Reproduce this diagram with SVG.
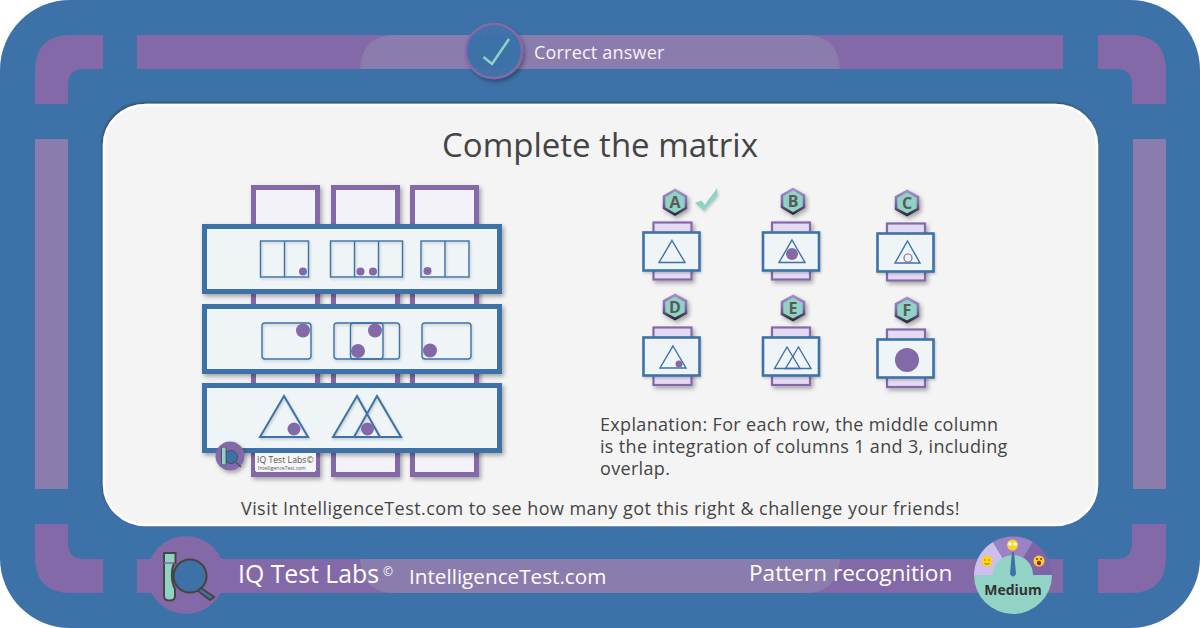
<svg xmlns="http://www.w3.org/2000/svg" width="1200" height="628" viewBox="0 0 1200 628">
<style>
text{font-family:"Open Sans","Noto Sans","Liberation Sans",sans-serif}
.bar{fill:#8469a8}.lite{fill:#8b7cae}
.body{fill:#444}
.col{fill:#f3f2f9;stroke:#8469a8;stroke-width:5}
.row{fill:#eff4f7;stroke:#3d72a8;stroke-width:5}
.ln{fill:none;stroke:#3d72a8;stroke-width:1.4}
.ln2{fill:none;stroke:#3d72a8;stroke-width:2}
.dot{fill:#8469a8}
.back{fill:#e5daf3;stroke:#8469a8;stroke-width:2.2}
.front{fill:#eff4f7;stroke:#3d72a8;stroke-width:2.6}
.hex{fill:#8fd3c5;stroke:url(#hs);stroke-width:2.6}
.hl{font-size:16px;font-weight:700;fill:#5a5a5a;text-anchor:middle}
.em{fill:#fbd321}
</style>
<defs>
<linearGradient id="hs" x1="0" y1="0" x2="0" y2="1"><stop offset="0" stop-color="#a58fca"/><stop offset=".55" stop-color="#7d64a6"/><stop offset="1" stop-color="#2e2a3a"/></linearGradient>
<filter id="s" x="-20%" y="-20%" width="150%" height="150%"><feDropShadow dx="2" dy="2.5" stdDeviation="2" flood-color="#000" flood-opacity=".33"/></filter>
<filter id="ss" x="-20%" y="-20%" width="150%" height="150%"><feDropShadow dx="1" dy="1.5" stdDeviation="1.200" flood-color="#000" flood-opacity=".2"/></filter>
<filter id="p" x="-5%" y="-5%" width="110%" height="110%"><feDropShadow dx="-1" dy="-1.500" stdDeviation="1" flood-color="#333" flood-opacity=".55"/></filter>
<pattern id="h" width="5" height="5" patternUnits="userSpaceOnUse" patternTransform="rotate(-45)"><line x1="0" y1="1" x2="5" y2="1" stroke="#8469a8" stroke-width="1" opacity=".45"/></pattern>
<clipPath id="ch"><rect x="466" y="24" width="56" height="12"/><rect x="466" y="68" width="56" height="10"/></clipPath>
</defs>
<g id="frame">
<rect x="0" y="0" width="1200" height="628" rx="70" ry="70" fill="#3d72a8"/>
<path class="bar" d="M35 104V71Q35 35 71 35H103V69H84Q68 69 68 85V104Z"/>
<path class="bar" d="M1166 104V71Q1166 35 1130 35H1098V69H1117Q1132 69 1132 85V104Z"/>
<path class="bar" d="M35 524V557Q35 593 71 593H103V559H84Q68 559 68 543V524Z"/>
<path class="bar" d="M1166 524V557Q1166 593 1130 593H1098V559H1117Q1132 559 1132 543V524Z"/>
<rect class="lite" x="35" y="139" width="33" height="350"/>
<rect class="lite" x="1133" y="139" width="33" height="350"/>
<rect class="bar" x="137" y="35" width="926" height="34"/>
<rect class="bar" x="137" y="559" width="926" height="34"/>
<path class="lite" d="M360 69Q362 35 395 35H805Q838 35 840 69Z"/>
<path class="lite" d="M360 559Q362 593 395 593H805Q838 593 840 559Z"/>
</g>
<g id="correct-badge">
<ellipse cx="494" cy="51" rx="28" ry="27" fill="#3d72a8" stroke="#8469a8" stroke-width="2.500" filter="url(#s)"/>
<ellipse cx="494" cy="51" rx="26.500" ry="25.500" fill="url(#h)" clip-path="url(#ch)"/>
<path d="M483.500 57L492 64L509 39" fill="none" stroke="#8fd3c5" stroke-width="2.400"/>
<text x="534" y="59" font-size="18" letter-spacing=".2" fill="#f4f4f4">Correct answer</text>
</g>
<g id="panel">
<rect x="104" y="105" width="993" height="420" rx="42" ry="40" fill="#f4f4f4" stroke="#fff" stroke-width="2.500" filter="url(#p)"/>
<text class="body" x="600" y="157" font-size="33" text-anchor="middle">Complete the matrix</text>
</g>
<g id="matrix">
<g id="columns" filter="url(#s)">
<rect class="col" x="253.500" y="187.500" width="64" height="287"/>
<rect class="col" x="333.500" y="187.500" width="64" height="287"/>
<rect class="col" x="412.500" y="187.500" width="64" height="287"/>
</g>
<g id="row1">
<rect class="row" x="204.500" y="226.500" width="295" height="65" filter="url(#s)"/>
<g class="ln" filter="url(#ss)"><rect x="260.500" y="241" width="48" height="36"/><path d="M284.500 241V277"/><rect x="330.500" y="241" width="72" height="36"/><path d="M354.500 241V277M378.500 241V277"/><rect x="421" y="241" width="48" height="36"/><path d="M445 241V277"/></g>
<circle class="dot" cx="303" cy="271.500" r="4"/><circle class="dot" cx="360.500" cy="271.500" r="4"/><circle class="dot" cx="373" cy="271.500" r="4"/><circle class="dot" cx="427.500" cy="271" r="4"/>
</g>
<g id="row2">
<rect class="row" x="204.500" y="306.500" width="295" height="65" filter="url(#s)"/>
<g class="ln" filter="url(#ss)"><rect x="262" y="323" width="49" height="36" rx="3"/><rect x="334" y="323" width="49" height="36" rx="3"/><rect x="350.500" y="323" width="49" height="36" rx="3"/><rect x="422" y="323" width="49" height="36" rx="3"/></g>
<circle class="dot" cx="303" cy="330.500" r="7"/><circle class="dot" cx="375" cy="330.500" r="7"/><circle class="dot" cx="358" cy="351" r="7"/><circle class="dot" cx="430" cy="350.500" r="7"/>
</g>
<g id="row3">
<rect class="row" x="204.500" y="385.500" width="295" height="65" filter="url(#s)"/>
<g class="ln2" filter="url(#ss)"><path d="M284 396L308 437H260Z"/><path d="M357 396L380 437H333Z"/><path d="M377 396L401 437H354Z"/></g>
<circle class="dot" cx="294" cy="429" r="6.500"/><circle class="dot" cx="367.500" cy="429" r="6.500"/>
</g>
<g id="watermark">
<rect x="255" y="453" width="61" height="18" fill="#f6f6f8"/>
<text x="257" y="463" font-size="8.700" fill="#555">IQ Test Labs©</text>
<text x="258" y="470" font-size="5" fill="#555">IntelligenceTest.com</text>
<circle cx="230" cy="456" r="14.500" fill="#8469a8" filter="url(#s)"/>
<circle cx="231" cy="457" r="6.500" fill="#3d72a8" stroke="#444" stroke-width=".8"/>
<rect x="221.500" y="447" width="4.500" height="18" rx="1.500" fill="#8fd3c5" stroke="#444" stroke-width=".8"/>
<path d="M235.500 462L241 467" stroke="#3d5a70" stroke-width="1.500"/>
</g>
</g>
<g id="option-a">
<path class="hex" filter="url(#s)" d="M675 190L686 196.500V208L675 214.500L664 208V196.500Z"/><text class="hl" x="675" y="208">A</text>
<path d="M695 203L701 200.500L705 205C708 199 713 195 717 188L717.500 195.500L704 211Z" fill="#8fd3c5" filter="url(#ss)"/>
<rect class="back" x="653.500" y="222.500" width="38" height="57" filter="url(#s)"/>
<rect class="front" x="643.500" y="232.500" width="56" height="38" filter="url(#ss)"/>
<path class="ln" d="M672 240.500L685 262.500H659Z"/>
</g>
<g id="option-b">
<path class="hex" filter="url(#s)" d="M793 189L804 195.500V207L793 213.500L782 207V195.500Z"/><text class="hl" x="793" y="207">B</text>
<rect class="back" x="772" y="222.500" width="38" height="57" filter="url(#s)"/>
<rect class="front" x="763" y="232.500" width="56" height="38" filter="url(#ss)"/>
<path class="ln" d="M792 240L805 262.500H779Z"/><circle class="dot" cx="792" cy="254" r="6"/>
</g>
<g id="option-c">
<path class="hex" filter="url(#s)" d="M907 191L918 197V209L907 215L896 209V197Z"/><text class="hl" x="907" y="209">C</text>
<rect class="back" x="887" y="223.500" width="38" height="57" filter="url(#s)"/>
<rect class="front" x="877.500" y="233.500" width="56" height="38" filter="url(#ss)"/>
<path class="ln" d="M907.500 241L920 263H895Z"/><circle cx="908" cy="258" r="4" fill="none" stroke="#8469a8" stroke-width="1.200"/>
</g>
<g id="option-d">
<path class="hex" filter="url(#s)" d="M675 295L686 301V313L675 319L664 313V301Z"/><text class="hl" x="675" y="313">D</text>
<rect class="back" x="653.500" y="327.500" width="38" height="57.500" filter="url(#s)"/>
<rect class="front" x="643.500" y="337.500" width="56" height="38" filter="url(#ss)"/>
<path class="ln" d="M673 346L686 368H660Z"/><circle class="dot" cx="679" cy="364" r="3.500"/>
</g>
<g id="option-e">
<path class="hex" filter="url(#s)" d="M793 296L804 302V314L793 320L782 314V302Z"/><text class="hl" x="793" y="314">E</text>
<rect class="back" x="772" y="327.500" width="38" height="57.500" filter="url(#s)"/>
<rect class="front" x="763" y="337.500" width="56" height="38" filter="url(#ss)"/>
<path class="ln" d="M787 347L800 368.500H774.500Z"/><path class="ln" d="M798.500 347L811 368.500H785.500Z"/>
</g>
<g id="option-f">
<path class="hex" filter="url(#s)" d="M907 298L918 304V316L907 322L896 316V304Z"/><text class="hl" x="907" y="316">F</text>
<rect class="back" x="887" y="329.500" width="38" height="57.500" filter="url(#s)"/>
<rect class="front" x="877.500" y="339.500" width="56" height="38" filter="url(#ss)"/>
<circle class="dot" cx="907" cy="360" r="12"/>
</g>
<g id="explanation" class="body" font-size="18" letter-spacing=".33">
<text x="600" y="431">Explanation: For each row, the middle column</text>
<text x="600" y="453">is the integration of columns 1 and 3, including</text>
<text x="600" y="475">overlap.</text>
</g>
<text id="cta" class="body" x="600.500" y="515" font-size="18" letter-spacing=".44" text-anchor="middle">Visit IntelligenceTest.com to see how many got this right &amp; challenge your friends!</text>
<g id="footer-logo">
<ellipse cx="186" cy="575" rx="39" ry="39" fill="#8469a8"/>
<circle cx="190" cy="576" r="16.500" fill="#3d72a8" stroke="#4a4440" stroke-width="2.200"/>
<path d="M164 553H175.500V563H174C171 570 171 582 175 589V596Q175 600.500 169.500 600.500Q164 600.500 164 596Z" fill="#8fd3c5" stroke="#4a4440" stroke-width="2"/>
<path d="M164 563H175" stroke="#8469a8" stroke-width="1.500"/>
<path d="M201 588L214 597L210 600L198 591Z" fill="#3d72a8" stroke="#4a4440" stroke-width="2"/>
<text x="238" y="583" font-size="24.800" fill="#fff">IQ Test Labs</text>
<text x="383" y="576" font-size="12" fill="#fff">©</text>
<text x="409" y="584" font-size="20.700" fill="#fff">IntelligenceTest.com</text>
</g>
<text id="category" x="749" y="581" font-size="22.600" fill="#fff">Pattern recognition</text>
<g id="gauge">
<path d="M1013 575L993 542A39 39 0 0 0 974 575Z" fill="#cfbdeb"/>
<path d="M1013 575L993 542A39 39 0 0 1 1033 542Z" fill="#9b82c4"/>
<path d="M1013 575L1033 542A39 39 0 0 1 1052 575Z" fill="#7f63a8"/>
<path d="M974 575H993A20 20 0 0 1 1033 575H1052A39 39 0 0 1 974 575Z" fill="#92d3c6"/>
<circle class="em" cx="987" cy="561" r="5.500"/><circle class="em" cx="1012.500" cy="545" r="5.500"/><circle class="em" cx="1039" cy="561" r="5.500"/>
<path d="M984 560h1.500M988.500 560h1.500M984.500 563.500q2.500 1.500 5 0" stroke="#8a5a00" stroke-width=".8" fill="none"/>
<circle cx="1010" cy="544" r="1.800" fill="#fff"/><circle cx="1015" cy="544" r="1.800" fill="#fff"/>
<circle cx="1039" cy="563" r="2.200" fill="#a02020"/><circle cx="1037" cy="559" r="1" fill="#6a3a00"/><circle cx="1041" cy="559" r="1" fill="#6a3a00"/>
<path d="M1012 552H1014L1016 574Q1013 579 1010 574Z" fill="#3d72a8"/>
<text x="1013" y="595" font-size="14" font-weight="700" text-anchor="middle" fill="#333">Medium</text>
</g>
</svg>
